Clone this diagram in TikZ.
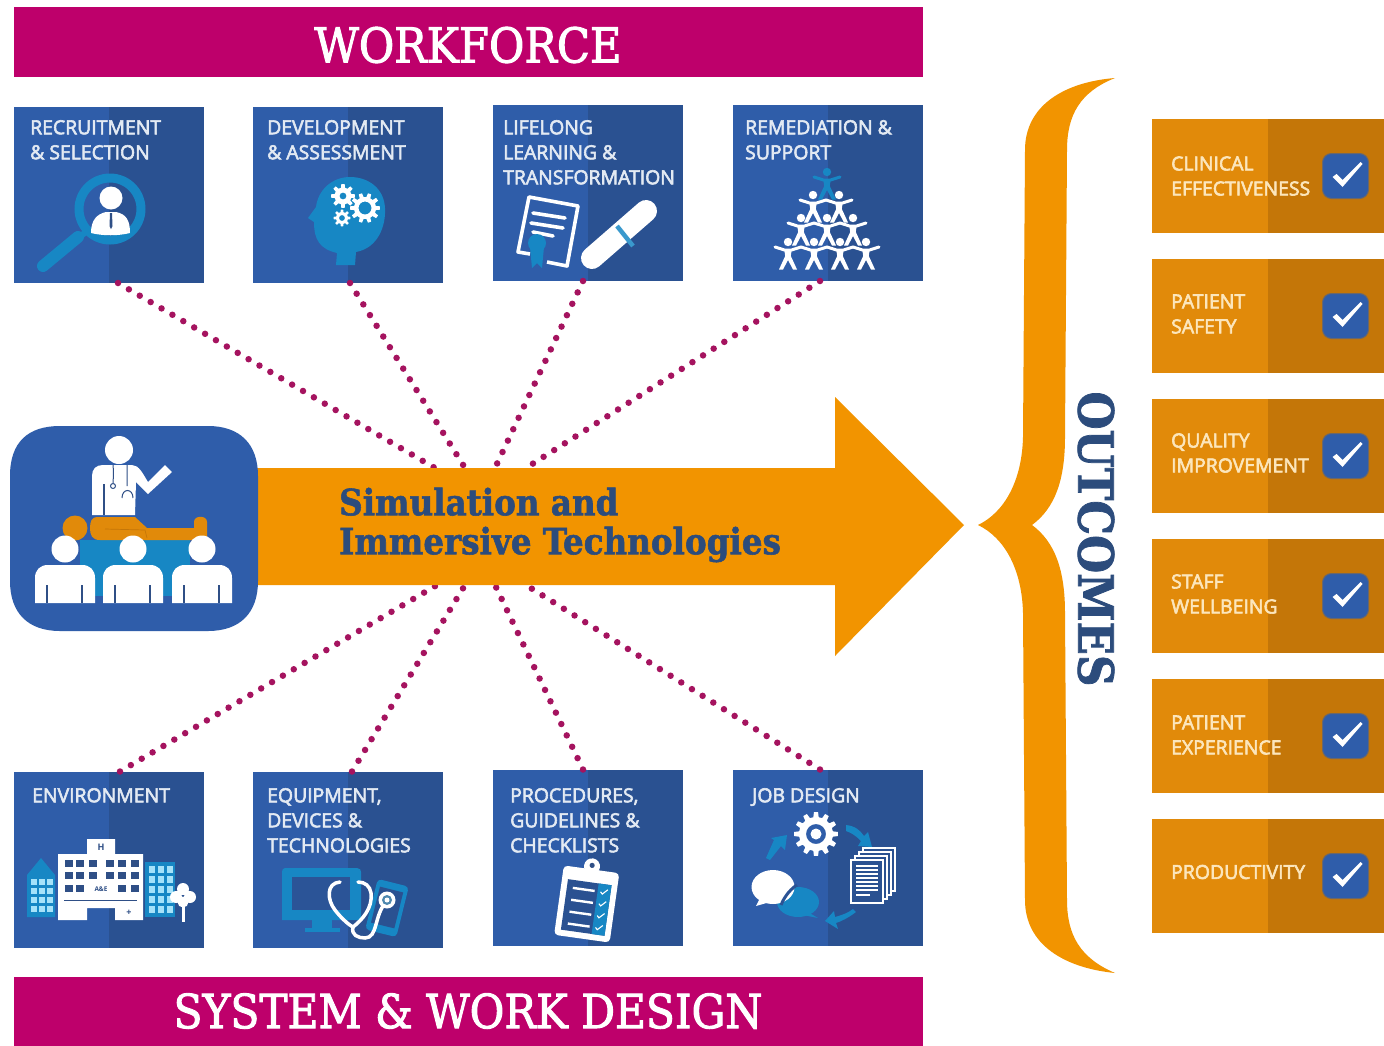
\documentclass[tikz,border=0pt]{standalone}
\usepackage{fontspec}
\usetikzlibrary{backgrounds,calc}
\setmainfont{Open Sans}
\newfontfamily\lblfont[FakeBold=3]{Open Sans}
\newfontfamily\iconfont{Open Sans}
\newfontfamily\bannerfont[FakeBold=2]{DejaVu Serif Condensed}
\newfontfamily\slabcond[FakeBold=1.5]{DejaVu Serif Condensed}
\definecolor{mag}{HTML}{BE006B}
\definecolor{dotc}{HTML}{A5135F}
\definecolor{blueL}{HTML}{2F5DA9}
\definecolor{blueD}{HTML}{2A5191}
\definecolor{blueM}{HTML}{2F5DAA}
\definecolor{ico}{HTML}{1787C4}
\definecolor{orng}{HTML}{F29400}
\definecolor{oL}{HTML}{E18A0A}
\definecolor{oD}{HTML}{C47608}
\definecolor{navy}{HTML}{2C4C7C}
\definecolor{lbl}{HTML}{E3EAF3}
\definecolor{lblo}{HTML}{FCE6BC}
\definecolor{slit}{HTML}{2F4F86}
\tikzset{
  x=1pt,y=-1pt,
  banner/.style={fill=mag,inner sep=0,outer sep=0,anchor=north west,minimum width=909pt},
  bannertext/.style={text=white,inner sep=0,font=\bannerfont\fontsize{48}{48}\selectfont},
  tile/.style={inner sep=0,outer sep=0,anchor=north west,minimum width=190pt,minimum height=176pt,
    path picture={\fill[blueL] (path picture bounding box.north west) rectangle (path picture bounding box.south);
      \fill[blueD] (path picture bounding box.north) rectangle (path picture bounding box.south east);}},
  tiletext/.style={anchor=north west,inner sep=0,align=left,text=lbl,font=\lblfont\fontsize{19.4}{25}\selectfont},
  outbox/.style={inner sep=0,outer sep=0,anchor=north west,minimum width=232pt,minimum height=114pt,
    path picture={\fill[oL] (path picture bounding box.north west) rectangle ([xshift=116pt]path picture bounding box.south west);
      \fill[oD] ([xshift=116pt]path picture bounding box.south west) rectangle (path picture bounding box.north east);}},
  outtext/.style={anchor=west,inner sep=0,align=left,text=lblo,font=\lblfont\fontsize{19.4}{25}\selectfont},
  dots/.style={dotc,line width=6.5pt,line cap=round,dash pattern=on 0pt off 12.6pt},
  checkbox/.style={fill=blueM,draw=oD!40!blueM,line width=1pt,rounded corners=9pt,minimum width=46pt,minimum height=45pt,inner sep=0,outer sep=0},
}
% gear: x y outer-r inner-r hole-r teeth colour
\newcommand{\cog}[7]{%
  \pgfmathsetmacro{\st}{360/#6}%
  \fill[#7,even odd rule] (#1,#2) circle[radius=#5]
   \foreach \k in {1,...,#6}{
     \ifnum\k=1 ($(#1,#2)+({(\k-1)*\st-0.30*\st}:#4)$) \else -- ($(#1,#2)+({(\k-1)*\st-0.30*\st}:#4)$) \fi
     -- ($(#1,#2)+({(\k-1)*\st-0.18*\st}:#3)$) -- ($(#1,#2)+({(\k-1)*\st+0.18*\st}:#3)$) -- ($(#1,#2)+({(\k-1)*\st+0.30*\st}:#4)$)
   } -- cycle;}
% acrobat figure
\newcommand{\acro}[3]{%
  \begin{scope}[shift={(#1,#2)}]
   \fill[#3] (0,0) circle[radius=4.2];
   \draw[#3,line width=3pt,line join=round,line cap=round] (-13,5) -- (-3.5,8) -- (3.5,8) -- (13,5);
   \fill[#3] (-3.8,7) -- (3.8,7) -- (2.8,14) -- (9,27.5) -- (5,27.5) -- (0,18) -- (-5,27.5) -- (-9,27.5) -- (-2.8,14) -- cycle;
  \end{scope}}
\newcommand{\listener}[2]{%
  \fill[white] (#1,549) circle[radius=13.5];
  \fill[white] (#1-30,603) -- (#1-30,578) .. controls (#1-30,570) and (#1-25,565) .. (#1-17,565) -- (#1+17,565) .. controls (#1+25,565) and (#1+30,570) .. (#1+30,578) -- (#1+30,603) -- cycle;
  \fill[slit] (#1-19.5,585) rectangle (#1-17,603);
  \fill[slit] (#1+15.5,585) rectangle (#1+18,603);}
\begin{document}
\begin{tikzpicture}
\useasboundingbox (0,0) rectangle (1384,1045);
\fill[white] (0,0) rectangle (1384,1045);

% banners
\node[banner,minimum height=70pt] (workforce) at (14,7) {};
\node[banner,minimum height=69pt] (system) at (14,977) {};
\node[bannertext] (workforcelabel) at (468,45) {WORKFORCE};
\node[bannertext,font=\bannerfont\fontsize{47}{47}\selectfont] (systemlabel) at (468,1011) {SYSTEM \& WORK DESIGN};

% tiles
\node[tile] (t1) at (14,107) {};
\node[tile] (t2) at (253,107) {};
\node[tile] (t3) at (493,105) {};
\node[tile] (t4) at (733,105) {};
\node[tile] (b1) at (14,771.5) {};
\node[tile] (b2) at (253,771.5) {};
\node[tile] (b3) at (493,769.5) {};
\node[tile] (b4) at (733,769.5) {};

% dotted connectors
\coordinate (h1) at (435,468); \coordinate (h2) at (465,468);
\coordinate (h3) at (495,468); \coordinate (h4) at (526,468);
\coordinate (g1) at (437,585); \coordinate (g2) at (465,585);
\coordinate (g3) at (495,585); \coordinate (g4) at (526,585);
\draw[dots] ([xshift=9pt]t1.south) -- (h1);
\draw[dots] ([xshift=2pt]t2.south) -- (h2);
\draw[dots] ([xshift=-5pt]t3.south) -- (h3);
\draw[dots] ([xshift=-8pt]t4.south) -- (h4);
\draw[dots] ([xshift=11pt]b1.north) -- (g1);
\draw[dots] ([xshift=4pt]b2.north) -- (g2);
\draw[dots] ([xshift=-5pt]b3.north) -- (g3);
\draw[dots] ([xshift=-8pt]b4.north) -- (g4);

% main arrow
\fill[orng] (250,468) -- (835,468) -- (835,397) -- (964,525) -- (835,656) -- (835,585) -- (250,585) -- cycle;
\node[anchor=west,inner sep=0,align=left,text=navy,font=\slabcond\bfseries\fontsize{36.2}{39}\selectfont] (simtext) at (339,525) {Simulation and\\Immersive Technologies};

% centre badge
\fill[blueM] (10,476) .. controls (10,442) and (28,426) .. (60,426) -- (208,426) .. controls (240,426) and (258,444) .. (258,476) -- (258,581) .. controls (258,613) and (240,631) .. (208,631) -- (60,631) .. controls (28,631) and (10,613) .. (10,581) -- cycle;
\fill[ico] (80,540) rectangle (190,596);
\fill[white] (119,450) circle[radius=14];
\fill[white] (92,515) -- (92,476) .. controls (92,469) and (96,465) .. (103,465) -- (132,465) .. controls (139,465) and (143,474) .. (148,482) -- (165,465) -- (172,472) -- (148,494) -- (136,482) -- (135,515) -- cycle;
\fill[slit] (103,484) rectangle (105,515);
\draw[slit,line width=1pt] (113,465) .. controls (114,475) and (113,480) .. (113,484) (113,486) circle[radius=2.5];
\draw[slit,line width=1pt] (127,465) -- (127,486) (122,498) .. controls (122,488) and (133,488) .. (133,498);
\fill[oL] (75,528) circle[radius=12.5];
\fill[oL] (97,517) -- (135,517) -- (147,528) -- (194,528) -- (194,522) .. controls (194,515) and (207,515) .. (207,522) -- (207,540) -- (100,540) .. controls (92,540) and (90,535) .. (90,528) .. controls (90,521) and (92,517) .. (97,517) -- cycle;
\draw[oD,line width=0.7pt] (105,529) -- (145,530) -- (147,538);
\listener{65}{} \listener{133}{} \listener{202}{}

% brace and word
\fill[orng] (1115,78) .. controls (1065,82) and (1025,105) .. (1025,150) -- (1023,437) .. controls (1022,480) and (1005,512) .. (978,525) .. controls (1005,538) and (1022,570) .. (1023,613) -- (1025,900) .. controls (1025,945) and (1065,968) .. (1115,973) .. controls (1080,958) and (1067,935) .. (1067,900) -- (1065,613) .. controls (1065,570) and (1055,542) .. (1032,525) .. controls (1055,508) and (1065,480) .. (1065,437) -- (1067,150) .. controls (1067,115) and (1080,92) .. (1115,78) -- cycle;
\node[rotate=-90,inner sep=0,text=navy,font=\slabcond\bfseries\fontsize{48.6}{48}\selectfont] (outcomes) at (1096,539) {OUTCOMES};

% outcome boxes
\foreach \nm/\yy in {o1/119,o2/259,o3/399,o4/539,o5/679,o6/819}{
  \node[outbox] (\nm) at (1152,\yy) {};
  \node[checkbox] (\nm c) at (1345.5,\yy+57) {};
  \fill[white,line join=round] (1345.5-13,\yy+58) -- (1345.5-9,\yy+55) -- (1345.5-3,\yy+61) -- (1345.5+15,\yy+43) -- (1345.5+17,\yy+45) -- (1345.5-3,\yy+68) -- cycle;
}
\node[outtext] (o1t) at (1171,176) {CLINICAL\\EFFECTIVENESS};
\node[outtext] (o2t) at (1171,314) {PATIENT\\SAFETY};
\node[outtext] (o3t) at (1171,453) {QUALITY\\IMPROVEMENT};
\node[outtext] (o4t) at (1171,594) {STAFF\\WELLBEING};
\node[outtext] (o5t) at (1171,735) {PATIENT\\EXPERIENCE};
\node[outtext] (o6t) at (1171,872) {PRODUCTIVITY};

% tile labels
\node[tiletext] (l1) at (30,120) {RECRUITMENT\\\& SELECTION};
\node[tiletext] (l2) at (267,120) {DEVELOPMENT\\\& ASSESSMENT};
\node[tiletext] (l3) at (503,120) {LIFELONG\\LEARNING \&\\TRANSFORMATION};
\node[tiletext] (l4) at (745,120) {REMEDIATION \&\\SUPPORT};
\node[tiletext] (l5) at (32,788) {ENVIRONMENT};
\node[tiletext] (l6) at (267,788) {EQUIPMENT,\\DEVICES \&\\TECHNOLOGIES};
\node[tiletext] (l7) at (510,788) {PROCEDURES,\\GUIDELINES \&\\CHECKLISTS};
\node[tiletext] (l8) at (752,788) {JOB DESIGN};

% icon: magnifier
\draw[ico,line width=9pt] (110,209) circle[radius=31];
\draw[ico,line width=12pt,line cap=round] (78,237) -- (43,266);
\draw[ico,line width=6pt] (87,231) -- (76,240);
\fill[white] (111,198) circle[radius=11.5];
\fill[white] (91,233) .. controls (91,220) and (97,214) .. (106,212) -- (116,212) .. controls (126,214) and (130,220) .. (130,233) .. controls (118,236) and (103,236) .. (91,233) -- cycle;
\fill[slit] (110,213) -- (112,213) -- (112.5,226) -- (111,229) -- (109.5,226) -- cycle;

% icon: head with gears
\fill[ico] (336,265) -- (355,265) -- (356,252) .. controls (378,248) and (386,226) .. (385,208) .. controls (384,188) and (368,177) .. (350,177) .. controls (332,177) and (318,190) .. (316,207) -- (308,218) -- (314,222) .. controls (314,240) and (320,249) .. (337,253) -- cycle;
\cog{343}{196}{12}{8.5}{3.5}{8}{white}
\cog{365}{208}{15}{11}{6.5}{10}{white}
\cog{342}{218}{8.5}{6}{3}{8}{white}

% icon: certificate and scroll
\draw[white,line width=3.6pt,line join=round] (547,262) -- (567,266) -- (578,206) -- (529,197) -- (518,252) -- (530,254);
\draw[white,line width=3.6pt,line cap=round] (533,213) -- (565,218) (531,223) -- (563,228) (533,232) -- (553,236);
\fill[ico] (537,243) circle[radius=9];
\fill[ico] (530,247) -- (544,247) -- (542,268) -- (537,263) -- (532,268) -- cycle;
\draw[white,line width=22pt,line cap=round] (592,258) -- (646,211);
\draw[ico!85!white,line width=4.5pt] (617,226) -- (633,246);

% icon: pyramid
\acro{827}{172}{ico}
\acro{813}{195}{white}\acro{839}{195}{white}
\acro{801}{218}{white}\acro{827}{218}{white}\acro{853}{218}{white}
\acro{788}{242}{white}\acro{814}{242}{white}\acro{840}{242}{white}\acro{866}{242}{white}

% icon: hospital
\fill[ico] (27,875) -- (41,858) -- (55,875) -- (55,917) -- (27,917) -- cycle;
\fill[ico] (145,862) rectangle (175,917);
\foreach \xx in {31,39,47} \foreach \yy in {879,888,897,906} \fill[cyan!35!white] (\xx,\yy) rectangle ++(5.5,6);
\foreach \xx in {149,158,167} \foreach \yy in {866,876,886,896,906} \fill[cyan!35!white] (\xx,\yy) rectangle ++(6,7);
\fill[white] (58,854) -- (87,854) -- (87,839) -- (115,839) -- (115,854) -- (143,854) -- (143,920) -- (115,920) -- (115,908) -- (87,908) -- (87,920) -- (58,920) -- cycle;
\foreach \xx in {64.5,75.5,88.5,105.5,117.5,130.5} \foreach \yy in {859.5,871.5} \fill[slit] (\xx,\yy) rectangle ++(8,7);
\foreach \xx in {64.5,75.5,117.5,130.5} \fill[slit] (\xx,884.5) rectangle ++(8,7);
\draw[slit,line width=0.7pt] (64,900) -- (137,900);
\node[inner sep=0,text=slit,font=\iconfont\bfseries\fontsize{6.5}{7}\selectfont] (ae) at (101,889) {A\&E};
\node[inner sep=0,text=slit,font=\iconfont\bfseries\fontsize{9}{9}\selectfont] (hh) at (101,847) {H};
\node[inner sep=0,text=slit,font=\iconfont\bfseries\fontsize{9}{9}\selectfont] (plus) at (129,913) {+};
\fill[white] (183,889) circle[radius=6] (176,897) circle[radius=6] (190,897) circle[radius=6] (183,902) circle[radius=5.5];
\fill[white] (182,900) rectangle (184.5,922);

% icon: devices and stethoscope
\fill[ico] (285,868) -- (357,868) .. controls (360,868) and (361,870) .. (361,872) -- (361,920) -- (282,920) -- (282,872) .. controls (282,870) and (283,868) .. (285,868) -- cycle;
\fill[blueD!75!blueL] (292,877) rectangle (350,910);
\fill[ico] (312,920) rectangle (332,928);
\fill[ico] (305,928) rectangle (340,932);
\begin{scope}[shift={(387,908)},rotate=-14]
 \fill[ico,rounded corners=4pt] (-16,-26) rectangle (16,26);
 \fill[blueD] (-12,-19) rectangle (12,18);
\end{scope}
\draw[white,line width=3.5pt,line cap=round,line join=round] (340,882) .. controls (326,883) and (327,900) .. (335,910) .. controls (341,918) and (349,925) .. (353,927) .. controls (362,920) and (373,908) .. (371,893) .. controls (370,886) and (365,882) .. (358,882);
\draw[white,line width=3.5pt,line cap=round] (353,927) .. controls (351,935) and (358,938) .. (365,938) .. controls (378,938) and (374,915) .. (386,902);
\fill[white] (387,900) circle[radius=8.5];
\fill[cyan!40!slit] (387,900) circle[radius=5];
\fill[white] (387,900) circle[radius=2.5];

% icon: clipboard
\begin{scope}[shift={(587,902)},rotate=-8]
 \fill[white,rounded corners=4pt] (-28,-33) rectangle (28,37);
 \fill[white] (0,-36) circle[radius=8];
 \fill[slit] (0,-37) circle[radius=2.6];
 \fill[blueD] (-22,-20) rectangle (22,31);
 \fill[white,rounded corners=2pt] (-16,-32) rectangle (16,-21);
 \fill[ico] (9,-20) rectangle (22,31);
 \foreach \yy in {-12,0,12,24}{
   \fill[white] (-16,\yy-1.2) rectangle (6,\yy+1.2);
   \draw[white,line width=1.1pt] (12,\yy) -- (14,\yy+2) -- (19,\yy-3);
 }
\end{scope}

% icon: job design
\cog{816}{834}{22}{17}{10}{12}{white}
\fill[white] (816,834) circle[radius=5.5];
\fill[ico] (766,858) -- (774,840) -- (771,838) -- (787,835) -- (785,850) -- (781,846) -- (770,860) -- cycle;
\fill[ico] (846,825) .. controls (855,826) and (860,830) .. (864,836) -- (868,832) -- (872,847) -- (858,846) -- (861,841) .. controls (856,836) and (852,833) .. (846,831) -- cycle;
\fill[ico] (856,912) .. controls (848,918) and (842,921) .. (836,923) -- (838,929) -- (825,921) -- (834,911) -- (835,917) .. controls (842,915) and (848,913) .. (853,909) -- cycle;
\foreach \dd in {12,8,4}{
  \fill[blueD] (851+\dd,860-\dd) rectangle (883+\dd,903-\dd);
  \draw[white,line width=1.8pt] (851+\dd,860-\dd) rectangle (883+\dd,903-\dd);
}
\fill[blueD] (851,860) rectangle (883,903);
\draw[white,line width=2.2pt] (851,860) rectangle (883,903);
\foreach \yy in {866,870,874,878,882,886,890} \draw[white,line width=1.1pt] (856,\yy) -- (878,\yy);
\draw[white,line width=1.1pt] (856,895) -- (870,895);
\fill[ico] (798,902) ellipse[x radius=21,y radius=15];
\fill[ico] (808,912) -- (818,918) -- (803,915) -- cycle;
\fill[white] (773,887) ellipse[x radius=21.5,y radius=17];
\fill[white] (760,898) -- (756,906) -- (770,902) -- cycle;
\draw[blueD!85!blueL,line width=3pt] (781,905) .. controls (785,895) and (792,888) .. (797,885);
\end{tikzpicture}
\end{document}
